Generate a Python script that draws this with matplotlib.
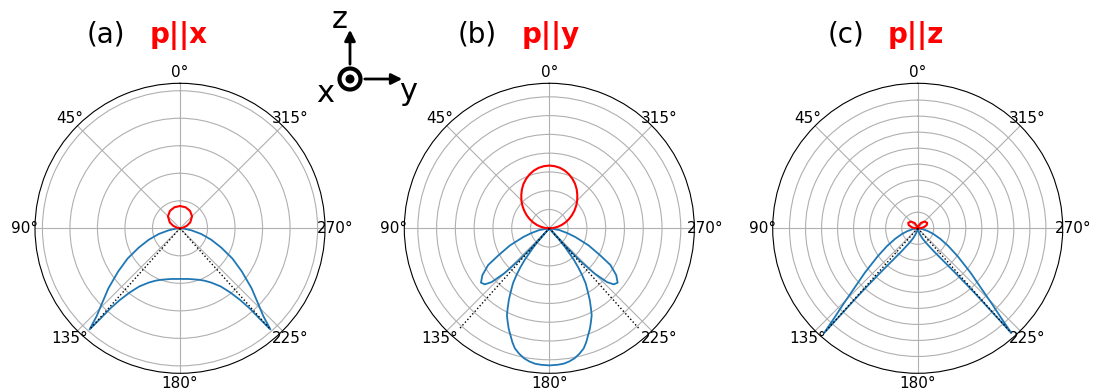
import numpy as np
import matplotlib
matplotlib.use('Agg')
import matplotlib.pyplot as plt
from matplotlib.patches import Circle

# radiation patterns, angles in degrees (0 = up, counter-clockwise), r in grid units
# (a) p||x
a_blue_theta = [90, 95, 100, 105, 110, 115, 120, 125, 130, 134, 136.5, 138.2,
                138.6, 139, 140, 142, 145, 150, 155, 160, 170, 180,
                190, 200, 205, 210, 215, 218, 220, 221, 221.4, 221.8,
                223.5, 226, 230, 235, 240, 245, 250, 255, 260, 265, 270]
a_blue_r = [0, 0.15, 0.42, 0.8, 1.2, 1.65, 2.2, 2.75, 3.4, 3.95, 4.4, 4.93,
            4.4, 3.85, 3.4, 2.95, 2.58, 2.28, 2.1, 1.99, 1.87, 1.84,
            1.87, 1.99, 2.1, 2.28, 2.58, 2.95, 3.4, 3.85, 4.4, 4.93,
            4.4, 3.95, 3.4, 2.75, 2.2, 1.65, 1.2, 0.8, 0.42, 0.15, 0]
a_red_theta = [-90, -85, -80, -70, -60, -45, -30, -15, 0, 15, 30, 45, 60, 70, 80, 85, 90]
a_red_r = [0, 0.05, 0.1, 0.26, 0.43, 0.62, 0.73, 0.79, 0.81, 0.79, 0.73, 0.62, 0.43, 0.26, 0.1, 0.05, 0]

# (b) p||y
b_blue_theta = [90, 100, 105, 108.5, 113.5, 118, 121, 125, 128.5, 131, 133, 135, 136.5, 137.5, 138.2,
                139, 140, 142, 143.5, 145, 146.5, 148.5, 150.5, 152.5, 154, 156, 158, 160, 162,
                164, 166.5, 169, 171.5, 174, 176.5, 180,
                183.5, 186, 188.5, 191, 193.5, 196, 198, 200, 202, 204, 206, 207.5, 209.5,
                211.5, 213.5, 215, 216.5, 218, 220, 221,
                221.8, 222.5, 223.5, 225, 227, 229, 231.5, 235, 239, 242, 246.5, 251.5, 255, 260, 270]
b_blue_r = [0, 0.55, 1.0, 1.46, 2.28, 3.07, 3.8, 4.35, 4.65, 4.55, 4.2, 3.4, 2.4, 1.3, 0,
            0.75, 1.3, 2.1, 2.6, 3.05, 3.5, 3.9, 4.37, 4.8, 5.15, 5.45, 5.77, 6.05, 6.37,
            6.65, 6.87, 7.05, 7.17, 7.25, 7.28, 7.3,
            7.28, 7.25, 7.17, 7.05, 6.87, 6.65, 6.37, 6.05, 5.77, 5.45, 5.15, 4.8, 4.37,
            3.9, 3.5, 3.05, 2.6, 2.1, 1.3, 0.75,
            0, 1.3, 2.4, 3.4, 4.2, 4.55, 4.65, 4.35, 3.8, 3.07, 2.28, 1.46, 1.0, 0.55, 0]
b_red_theta = [-90, -85, -80, -75, -70, -65, -60, -55, -50, -45, -40, -35, -30, -25, -20, -15, -10, -5,
               0, 5, 10, 15, 20, 25, 30, 35, 40, 45, 50, 55, 60, 65, 70, 75, 80, 85, 90]
b_red_r = [0, 0.22, 0.45, 0.68, 0.91, 1.15, 1.39, 1.63, 1.87, 2.1, 2.32, 2.54, 2.74, 2.91, 3.06, 3.18, 3.27, 3.32,
           3.34, 3.32, 3.27, 3.18, 3.06, 2.91, 2.74, 2.54, 2.32, 2.1, 1.87, 1.63, 1.39, 1.15, 0.91, 0.68, 0.45, 0.22, 0]

# (c) p||z
c_blue_theta = [90, 100, 105, 110, 115, 120, 125, 130, 133, 135.5, 137, 138.2,
                138.6, 139, 140, 142, 145, 150, 155, 160, 165, 170, 175, 180,
                185, 190, 195, 200, 205, 210, 215, 218, 220, 221, 221.4, 221.8,
                223, 224.5, 227, 230, 235, 240, 245, 250, 255, 260, 270]
c_blue_r = [0, 0.3, 0.65, 1.05, 1.55, 2.2, 3.05, 4.3, 5.3, 6.6, 7.6, 8.76,
            5.5, 4.65, 3.55, 2.5, 1.75, 1.07, 0.7, 0.41, 0.22, 0.1, 0.03, 0,
            0.03, 0.1, 0.22, 0.41, 0.7, 1.07, 1.75, 2.5, 3.55, 4.65, 5.5, 8.76,
            7.6, 6.6, 5.3, 4.3, 3.05, 2.2, 1.55, 1.05, 0.65, 0.3, 0]
c_red_theta = [-90, -85, -80, -70, -60, -45, -30, -15, 0, 15, 30, 45, 60, 70, 80, 85, 90]
c_red_r = [0, 0.2, 0.38, 0.6, 0.68, 0.6, 0.38, 0.12, 0, 0.12, 0.38, 0.6, 0.68, 0.6, 0.38, 0.2, 0]

crit_theta = [138.2, 221.8]
dotted_len = [4.93, 7.2, 8.76]
r_max = [5.27, 7.72, 9.05]
n_rings = [5, 7, 8]

labels = ['(a)', '(b)', '(c)']
pols = ['p||x', 'p||y', 'p||z']

W, H = 1097, 392
fig = plt.figure(figsize=(W / 100, H / 100), dpi=100)

centers = [180, 549.3, 917.7]
cy, rad = 228.3, 145
panels = [(a_blue_theta, a_blue_r, a_red_theta, a_red_r),
          (b_blue_theta, b_blue_r, b_red_theta, b_red_r),
          (c_blue_theta, c_blue_r, c_red_theta, c_red_r)]

for i, (bt, br, rt, rr) in enumerate(panels):
    cx = centers[i]
    ax = fig.add_axes([(cx - rad) / W, (H - cy - rad) / H, 2 * rad / W, 2 * rad / H],
                      projection='polar')
    ax.set_theta_zero_location('N')
    ax.plot(np.radians(bt), br, color='#1f77b4', lw=1.3)
    ax.plot(np.radians(rt), rr, color='red', lw=1.5)
    for t in crit_theta:
        ax.plot(np.radians([t, t]), [0, dotted_len[i]], color='black', ls=':', lw=1)
    ax.set_rticks(list(range(1, n_rings[i] + 1)))
    ax.set_yticklabels([])
    ax.set_ylim(0, r_max[i])
    ax.set_thetagrids(range(0, 360, 45))
    ax.tick_params(axis='x', labelsize=11, pad=-3)
    ax.grid(color='#b0b0b0', lw=0.8)

# panel titles
title_x = [87, 458, 828]
pol_x = [150, 522, 888]
for i in range(3):
    fig.text(title_x[i] / W, 1 - 43 / H, labels[i], fontsize=20, va='baseline')
    fig.text(pol_x[i] / W, 1 - 43 / H, pols[i], fontsize=20, va='baseline',
             color='red', fontweight='bold')

# coordinate sketch
ov = fig.add_axes([0, 0, 1, 1])
ov.set_xlim(0, W)
ov.set_ylim(H, 0)
ov.axis('off')
ov.add_patch(Circle((350, 79), 10.5, fill=False, lw=3, color='black'))
ov.add_patch(Circle((350, 79), 3.8, color='black'))
ov.annotate('', xy=(350, 27), xytext=(350, 67),
            arrowprops=dict(arrowstyle='-|>', lw=2, color='black', mutation_scale=16))
ov.annotate('', xy=(405, 79), xytext=(362, 79),
            arrowprops=dict(arrowstyle='-|>', lw=2, color='black', mutation_scale=16))
ov.text(340, 28, 'z', fontsize=22, ha='center', va='baseline')
ov.text(325, 102, 'x', fontsize=22, ha='center', va='baseline')
ov.text(408, 100, 'y', fontsize=22, ha='center', va='baseline')

fig.savefig('out.png', dpi=100)
